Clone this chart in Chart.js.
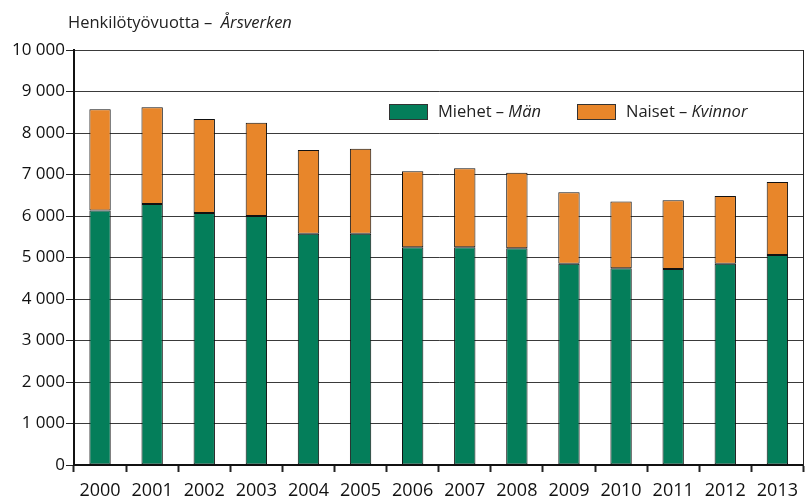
<!DOCTYPE html>
<html>
<head>
<meta charset="utf-8">
<script src="https://cdn.jsdelivr.net/npm/chart.js@4.4.1/dist/chart.umd.min.js"></script>
<style>
  html, body { margin: 0; padding: 0; background: #fff; }
  #wrap { width: 806px; height: 497px; }
</style>
</head>
<body>
<div id="wrap"><canvas id="workChart"></canvas></div>
<script>
const years = ['2000', '2001', '2002', '2003', '2004', '2005', '2006', '2007', '2008', '2009', '2010', '2011', '2012', '2013'];
const men = [6130, 6290, 6070, 6000, 5570, 5570, 5250, 5250, 5220, 4850, 4740, 4720, 4850, 5060];
const women = [2440, 2330, 2270, 2250, 2020, 2050, 1830, 1900, 1820, 1720, 1610, 1660, 1630, 1760];
const yTickLabels = ['0', '1 000', '2 000', '3 000', '4 000', '5 000', '6 000', '7 000', '8 000', '9 000', '10 000'];

const FONT = "'Open Sans', 'DejaVu Sans', sans-serif";
const GREEN = '#047e5a';
const ORANGE = '#e8862a';

// title + legend drawn by hand because of the italic parts
const textPlugin = {
  id: 'textPlugin',
  afterDraw(chart) {
    const ctx = chart.ctx;
    ctx.save();
    ctx.textBaseline = 'middle';
    ctx.fillStyle = '#222';

    function mixed(x, y, parts, size) {
      parts.forEach(p => {
        ctx.font = (p.italic ? 'italic ' : '') + size + 'px ' + FONT;
        ctx.fillText(p.text, x, y);
        x += ctx.measureText(p.text).width;
      });
    }

    mixed(68, 23, [{ text: 'Henkilötyövuotta –  ' }, { text: 'Årsverken', italic: true }], 16.5);

    const items = [
      { x: 389, color: GREEN, parts: [{ text: 'Miehet – ' }, { text: 'Män', italic: true }] },
      { x: 577, color: ORANGE, parts: [{ text: 'Naiset – ' }, { text: 'Kvinnor', italic: true }] }
    ];
    items.forEach(it => {
      ctx.fillStyle = it.color;
      ctx.fillRect(it.x, 104, 38, 15);
      ctx.strokeStyle = '#333';
      ctx.lineWidth = 1;
      ctx.strokeRect(it.x + 0.5, 104.5, 38, 15);
      ctx.fillStyle = '#222';
      mixed(it.x + 49, 112, it.parts, 16.5);
    });
    ctx.restore();
  }
};

new Chart(document.getElementById('workChart'), {
  type: 'bar',
  data: {
    labels: years,
    datasets: [
      {
        label: 'Miehet – Män',
        data: men,
        backgroundColor: GREEN,
        borderColor: '#111',
        borderWidth: 1,
        borderSkipped: false,
        barPercentage: 0.41,
        categoryPercentage: 1
      },
      {
        label: 'Naiset – Kvinnor',
        data: women,
        backgroundColor: ORANGE,
        borderColor: '#111',
        borderWidth: 1,
        borderSkipped: false,
        barPercentage: 0.41,
        categoryPercentage: 1
      }
    ]
  },
  options: {
    responsive: true,
    maintainAspectRatio: false,
    animation: false,
    layout: {
      padding: { top: 50, left: 0, right: 0, bottom: 0 }
    },
    plugins: {
      legend: { display: false },
      tooltip: { enabled: false }
    },
    scales: {
      x: {
        stacked: true,
        offset: true,
        afterFit: s => { s.height = 32; },
        grid: {
          offset: true,
          drawOnChartArea: false,
          tickLength: 7,
          tickWidth: 2,
          tickColor: '#222'
        },
        border: { display: true, color: '#111', width: 2 },
        ticks: {
          color: '#111',
          padding: 8,
          maxRotation: 0,
          autoSkip: false,
          font: { family: FONT, size: 18 }
        }
      },
      y: {
        stacked: true,
        min: 0,
        max: 10000,
        afterFit: s => { s.width = 74; },
        afterBuildTicks: s => {
          s.ticks = yTickLabels.map((t, i) => ({ value: i * 1000 }));
        },
        grid: {
          color: '#3a3a3a',
          lineWidth: 1,
          tickLength: 8,
          tickColor: '#222'
        },
        border: { display: true, color: '#111', width: 2 },
        ticks: {
          color: '#111',
          padding: 1,
          font: { family: FONT, size: 17 },
          callback: (v, i) => yTickLabels[i]
        }
      },
      yRight: {
        position: 'right',
        min: 0,
        max: 10000,
        afterFit: s => { s.width = 1; },
        grid: { drawOnChartArea: false, drawTicks: false },
        border: { display: true, color: '#222', width: 1 },
        ticks: { display: false }
      }
    }
  },
  plugins: [textPlugin]
});
</script>
</body>
</html>
